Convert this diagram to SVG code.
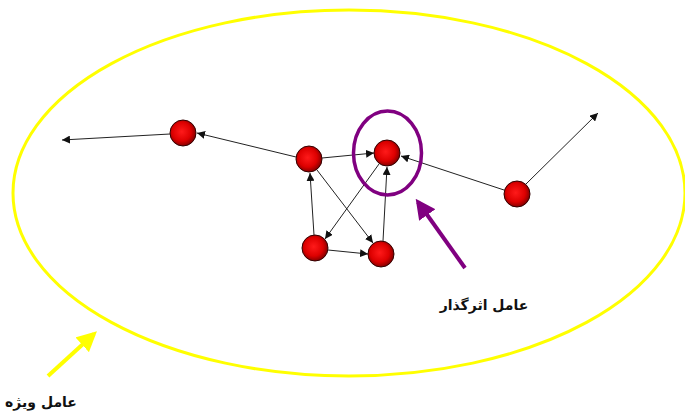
<svg xmlns="http://www.w3.org/2000/svg" width="685" height="412" viewBox="0 0 685 412">
<style>
.edge{stroke:#222;stroke-width:1;fill:none;marker-end:url(#ah)}
.node{fill:url(#rg);stroke:#300;stroke-width:1}
.lbl{font-family:"DejaVu Sans","Noto Sans",sans-serif;font-weight:bold;font-size:14px;fill:#111}
</style>
<defs>
<radialGradient id="rg" cx="0.45" cy="0.45" r="0.6">
<stop offset="0" stop-color="#ff1a1a"/>
<stop offset="0.6" stop-color="#dd0000"/>
<stop offset="1" stop-color="#700000"/>
</radialGradient>
<marker id="ah" viewBox="0 0 10 10" refX="10" refY="5" markerWidth="8" markerHeight="8" markerUnits="userSpaceOnUse" orient="auto">
<path d="M0,0 L10,5 L0,10 z" fill="#111"/>
</marker>
<marker id="ahp" viewBox="0 0 10 10" refX="8" refY="5" markerWidth="5" markerHeight="5" orient="auto">
<path d="M0,0 L10,5 L0,10 z" fill="#800080"/>
</marker>
<marker id="ahy" viewBox="0 0 10 10" refX="8" refY="5" markerWidth="5" markerHeight="5" orient="auto">
<path d="M0,0 L10,5 L0,10 z" fill="#ffff00"/>
</marker>
</defs>
<ellipse cx="349" cy="193" rx="336" ry="183" fill="none" stroke="#ffff00" stroke-width="3"/>
<g id="connectors">
<line class="edge" x1="170" y1="134" x2="62" y2="140"/>
<line class="edge" x1="296" y1="157" x2="197" y2="133"/>
<line class="edge" x1="322" y1="158" x2="374" y2="153"/>
<line class="edge" x1="504" y1="190" x2="401" y2="156"/>
<line class="edge" x1="526" y1="184" x2="598" y2="113"/>
<line class="edge" x1="314" y1="235" x2="310" y2="173"/>
<line class="edge" x1="317" y1="170" x2="373" y2="243"/>
<line class="edge" x1="379" y1="164" x2="325" y2="239"/>
<line class="edge" x1="383" y1="241" x2="387" y2="167"/>
<line class="edge" x1="328" y1="250" x2="368" y2="254"/>
<line x1="465" y1="268" x2="418" y2="202" stroke="#800080" stroke-width="4" marker-end="url(#ahp)"/>
<line x1="48" y1="376" x2="94" y2="334" stroke="#ffff00" stroke-width="4" marker-end="url(#ahy)"/>
</g>
<g id="nodeA"><circle class="node" cx="183" cy="133" r="13"/></g>
<g id="nodeB"><circle class="node" cx="309" cy="159" r="13"/></g>
<g id="nodeC"><circle class="node" cx="387" cy="153" r="13"/></g>
<g id="nodeD"><circle class="node" cx="517" cy="194" r="13"/></g>
<g id="nodeE"><circle class="node" cx="315" cy="248" r="13"/></g>
<g id="nodeF"><circle class="node" cx="381" cy="254" r="13"/></g>
<g id="influencer"><ellipse cx="387.5" cy="153" rx="34" ry="42" fill="none" stroke="#800080" stroke-width="3.5"/></g>
<text class="lbl" x="484" y="310" text-anchor="middle" direction="rtl">عامل اثرگذار</text>
<text class="lbl" x="41" y="407" text-anchor="middle" direction="rtl">عامل ویژه</text>
</svg>
